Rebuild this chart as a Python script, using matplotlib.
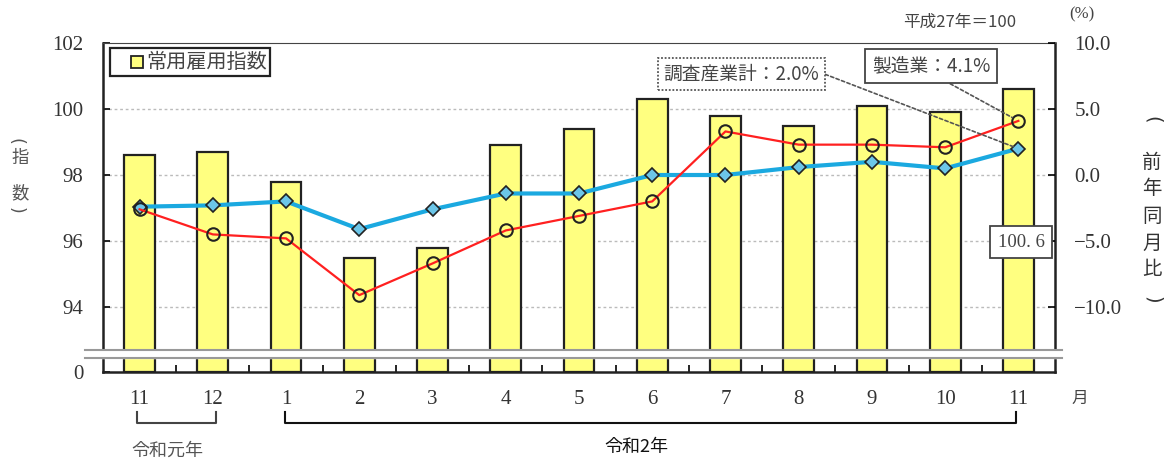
import numpy as np
import matplotlib.pyplot as plt
from matplotlib.patches import Rectangle

plt.rcParams['font.family'] = ['Liberation Serif', 'Noto Sans CJK JP']

months = ["11", "12", "1", "2", "3", "4", "5", "6", "7", "8", "9", "10", "11"]
index_values = [98.6, 98.7, 97.8, 95.5, 95.8, 98.9, 99.4, 100.3, 99.8, 99.5, 100.1, 99.9, 100.6]
all_industry = [-2.4, -2.3, -2.0, -4.1, -2.6, -1.4, -1.4, 0.0, 0.0, 0.6, 1.0, 0.5, 2.0]
manufacturing = [-2.6, -4.5, -4.8, -9.1, -6.7, -4.2, -3.1, -2.0, 3.3, 2.3, 2.3, 2.1, 4.1]

x = np.arange(len(months))
ymin, ymax = 92.03, 102.0

W, H = 1170, 459
fig = plt.figure(figsize=(11.7, 4.59), dpi=100)
ax = fig.add_axes([0.088, 0.1895, 0.8137, 0.7168])
ax2 = ax.twinx()

ax.bar(x, np.array(index_values) - ymin, bottom=ymin, width=0.42,
       color="#FFFF80", edgecolor="#222222", linewidth=1.6, zorder=2)
ax.set_xlim(-0.5, 12.5)
ax.set_ylim(ymin, ymax)
ax.set_yticks([ymin, 94, 96, 98, 100, 102])
ax.set_yticklabels(["0", "94", "96", "98", "100", "102"], fontsize=15, color="#333333")
for yv in [94, 96, 98, 100]:
    ax.axhline(yv, color="#bbbbbb", linestyle=(0, (2, 2)), linewidth=1.0, zorder=1)

ax.set_xticks(x)
ax.set_xticklabels(months, fontsize=15, color="#333333")
ax.set_xticks(x[:-1] + 0.5, minor=True)
ax.tick_params(axis="x", which="major", length=0, pad=13)
ax.tick_params(axis="x", which="minor", direction="in", length=5, width=1.2)
ax.tick_params(axis="y", direction="in", length=5, width=1.2, pad=14)

for s in ["left", "bottom", "right"]:
    ax.spines[s].set_linewidth(1.8)
    ax.spines[s].set_color("#222222")
ax.spines["top"].set_linestyle((0, (1, 1)))
ax.spines["top"].set_color("#444444")

# right axis (%)
r0 = (ymin - 98) * 2.5
r1 = (ymax - 98) * 2.5
ax2.set_ylim(r0, r1)
ax2.set_yticks([-10, -5, 0, 5, 10])
ax2.set_yticklabels(["\u221210.0", "\u22125.0", "0.0", "5.0", "10.0"], fontsize=15, color="#333333")
ax2.tick_params(axis="y", direction="in", length=5, width=1.2, pad=14)
for s in ax2.spines.values():
    s.set_visible(False)

ax2.plot(x, all_industry, color="#1BA9E0", linewidth=3, marker="D", markersize=7,
         markerfacecolor="#6CC6E8", markeredgecolor="#222222", markeredgewidth=1.2, zorder=3)
ax2.plot(x, manufacturing, color="#FF2020", linewidth=1.6, marker="o", markersize=9,
         markerfacecolor="none", markeredgecolor="#222222", markeredgewidth=1.5, zorder=4)

# axis break
b_lo, b_hi = (92.45 - 98) * 2.5, (92.7 - 98) * 2.5
tr = ax2.get_yaxis_transform()
ax2.fill_between([-0.02, 1.01], b_lo, b_hi, color="white", transform=tr, clip_on=False, zorder=6)
for yb in [b_lo, b_hi]:
    ax2.plot([-0.019, 1.007], [yb, yb], color="#999999", linewidth=1.5,
             transform=tr, clip_on=False, zorder=7)

# legend-like box
fig.add_artist(Rectangle((110 / W, 1 - 76 / H), 160 / W, 28 / H, transform=fig.transFigure,
                         facecolor="white", edgecolor="#222222", linewidth=1.6, zorder=9))
fig.add_artist(plt.Line2D([137 / W], [1 - 62 / H], marker="s", markersize=8, color="#FFFF80",
                          markeredgecolor="#222222", markeredgewidth=1.3,
                          transform=fig.transFigure, zorder=10))
fig.text(146 / W, 1 - 62 / H, "常用雇用指数", ha="left", va="center", fontsize=14.5,
         color="#444444", family=["Noto Sans CJK JP"], zorder=10)

# annotations
ax2.annotate("調査産業計：2.0%", xy=(x[-1], all_industry[-1]), xytext=(741 / W, 1 - 74 / H),
             textcoords="figure fraction", ha="center", va="center", fontsize=13.5, color="#444444",
             family=["Noto Sans CJK JP", "DejaVu Sans"],
             bbox=dict(boxstyle="square,pad=0.3", facecolor="white", edgecolor="#555555",
                       linestyle=(0, (1, 1)), linewidth=1.3),
             arrowprops=dict(arrowstyle="-", color="#555555", linestyle=(0, (2, 1.5)), linewidth=1.2,
                             shrinkA=0, shrinkB=4, relpos=(1.0, 0.6)), zorder=8)
ax2.annotate("製造業：4.1%", xy=(x[-1], manufacturing[-1]), xytext=(931 / W, 1 - 66 / H),
             textcoords="figure fraction", ha="center", va="center", fontsize=13.5, color="#444444",
             family=["Noto Sans CJK JP", "DejaVu Sans"],
             bbox=dict(boxstyle="square,pad=0.35", facecolor="white", edgecolor="#444444", linewidth=1.3),
             arrowprops=dict(arrowstyle="-", color="#555555", linestyle=(0, (2, 1.5)), linewidth=1.2,
                             shrinkA=0, shrinkB=5, relpos=(0.55, 0.0)), zorder=8)
ax2.text(x[-1] + 0.04, -5.1, "100. 6", ha="center", va="center",
         fontsize=13.5, color="#444444",
         bbox=dict(boxstyle="square,pad=0.4", facecolor="white", edgecolor="#444444", linewidth=1.3),
         zorder=8)

# header texts
fig.text(960 / W, 1 - 22 / H, "平成27年＝100", ha="center", va="center", fontsize=12,
         color="#444444", family=["Noto Sans CJK JP", "DejaVu Sans"])
fig.text(1082 / W, 1 - 14 / H, "(%)", ha="center", va="center", fontsize=12, color="#444444")
fig.text(1080 / W, 1 - 398 / H, "月", ha="center", va="center", fontsize=12,
         color="#444444", family=["Noto Sans CJK JP"])

# y labels (vertical), brackets drawn as rotated parentheses
def vlabel(xp, chars, ys, size, color, pshift=0):
    for ch, py in zip(chars, ys):
        if ch in "()":
            fig.text((xp + pshift) / W, 1 - py / H, ch, ha="center", va="center", fontsize=size,
                     color=color, family=["DejaVu Sans"], rotation=-90)
        else:
            fig.text(xp / W, 1 - py / H, ch, ha="center", va="center", fontsize=size,
                     color=color, family=["Noto Sans CJK JP"])

vlabel(20, ["(", "指", "数", ")"], [141, 158, 193, 210], 12.5, "#555555", pshift=-4)
vlabel(1152, ["(", "前", "年", "同", "月", "比", ")"], [120, 162, 189, 216, 243, 270, 300], 14, "#333333")

# year brackets
xt = ax.get_xaxis_transform()
yb_top, yb_bot = -0.122, -0.155
ax.plot([-0.04, -0.04, 1.04, 1.04], [yb_top, yb_bot, yb_bot, yb_top], color="#444444",
        linewidth=1.5, transform=xt, clip_on=False)
ax.plot([1.99, 1.99, 11.97, 11.97], [yb_top, yb_bot, yb_bot, yb_top], color="#111111",
        linewidth=1.5, transform=xt, clip_on=False)
ax.text(0.38, -0.24, "令和元年", transform=xt, ha="center", va="center", fontsize=13,
        color="#555555", family=["Noto Sans CJK JP"])
ax.text(6.78, -0.228, "令和2年", transform=xt, ha="center", va="center", fontsize=13,
        color="#111111", family=["Noto Sans CJK JP"])

fig.savefig("out.png", dpi=100)
